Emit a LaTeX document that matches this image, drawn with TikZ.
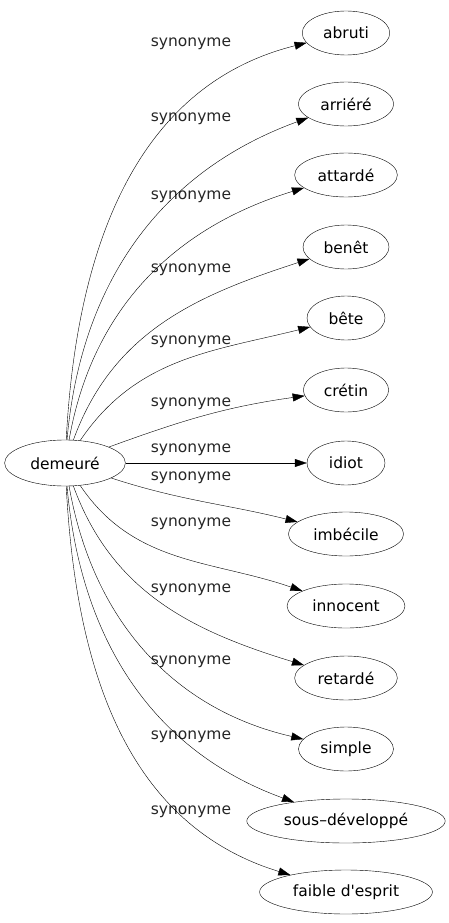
\documentclass[tikz,border=0pt]{standalone}
\usepackage{fontspec}
\setmainfont{DejaVu Sans}
\usetikzlibrary{arrows.meta,shapes.geometric}

\begin{document}
\begin{tikzpicture}
                [x=1pt, y=-1pt,
                every node/.style={font=\fontsize{15.5}{18}\selectfont},
                wsty/.style={ellipse, draw, thin, inner xsep=8pt, inner ysep=0pt, minimum width=78pt, minimum height=44pt},
                lsty/.style={text=black!85, inner sep=0pt},
                asty/.style={-{Triangle[length=12pt, width=8pt]}, thin}]
                \useasboundingbox (0,0) rectangle (448,923);
                % source word
                \node[wsty, minimum height=46pt] (dem) at (65,463) {demeuré};
                % synonyms
                \node[wsty] (abruti) at (346,33) {abruti};
                \node[wsty] (arriere) at (346,104) {arriéré};
                \node[wsty] (attarde) at (346,175) {attardé};
                \node[wsty] (benet) at (346,247) {benêt};
                \node[wsty] (bete) at (346,318) {bête};
                \node[wsty] (cretin) at (346,390) {crétin};
                \node[wsty] (idiot) at (346,463) {idiot};
                \node[wsty] (imbecile) at (346,534) {imbécile};
                \node[wsty] (innocent) at (346,606) {innocent};
                \node[wsty] (retarde) at (346,678) {retardé};
                \node[wsty] (simple) at (346,749) {simple};
                \node[wsty] (sousdev) at (346,821) {sous–développé};
                \node[wsty] (faible) at (346,892) {faible d\textquotesingle esprit};
                % edge labels
                \node[lsty] (l1) at (191,44) {synonyme};
                \node[lsty] (l2) at (191,119) {synonyme};
                \node[lsty] (l3) at (191,197) {synonyme};
                \node[lsty] (l4) at (191,270) {synonyme};
                \node[lsty] (l5) at (191,342) {synonyme};
                \node[lsty] (l6) at (191,404) {synonyme};
                \node[lsty] (l7) at (191,450) {synonyme};
                \node[lsty] (l8) at (191,478) {synonyme};
                \node[lsty] (l9) at (191,524) {synonyme};
                \node[lsty] (l10) at (191,590) {synonyme};
                \node[lsty] (l11) at (191,662) {synonyme};
                \node[lsty] (l12) at (191,737) {synonyme};
                \node[lsty] (l13) at (191,812) {synonyme};
                % edges
                \draw[asty] (dem) to[out=87, in=194] (abruti);
                \draw[asty] (dem) to[out=85, in=200] (arriere);
                \draw[asty] (dem) to[out=80, in=197] (attarde);
                \draw[asty] (dem) to[out=70, in=198] (benet);
                \draw[asty] (dem) to[out=56, in=194] (bete);
                \draw[asty] (dem) to[out=20, in=188] (cretin);
                \draw[asty] (dem) -- (idiot);
                \draw[asty] (dem) to[out=-18, in=166] (imbecile);
                \draw[asty] (dem) to[out=-56, in=161] (innocent);
                \draw[asty] (dem) to[out=-70, in=163] (retarde);
                \draw[asty] (dem) to[out=-80, in=167] (simple);
                \draw[asty] (dem) to[out=-85, in=160] (sousdev);
                \draw[asty] (dem) to[out=-87, in=163] (faible);
            \end{tikzpicture}
\end{document}
